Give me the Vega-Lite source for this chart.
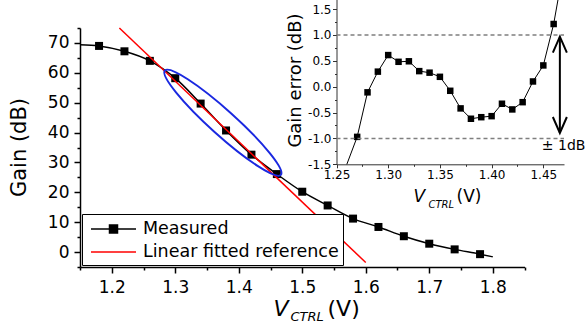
{
  "$schema": "https://vega.github.io/schema/vega-lite/v6.json",
  "width": 444.5,
  "height": 239,
  "autosize": {"type": "none"},
  "padding": {"left": 80, "top": 28, "right": 63.5, "bottom": 60},
  "background": "white",
  "config": {
    "font": "DejaVu Sans",
    "view": {"stroke": null},
    "axis": {"grid": false, "titleFontWeight": "normal", "labelColor": "black", "titleColor": "black", "domainColor": "black", "tickColor": "black", "labelOverlap": false, "labelFlush": false, "labelBound": false}
  },
  "datasets": {
    "measured": [
      {"v": 1.15, "gain": 69.4, "marker": false, "series": "Measured"},
      {"v": 1.18, "gain": 69.0, "marker": true, "series": "Measured"},
      {"v": 1.22, "gain": 67.2, "marker": true, "series": "Measured"},
      {"v": 1.26, "gain": 64.0, "marker": true, "series": "Measured"},
      {"v": 1.30, "gain": 58.2, "marker": true, "series": "Measured"},
      {"v": 1.34, "gain": 49.7, "marker": true, "series": "Measured"},
      {"v": 1.38, "gain": 40.7, "marker": true, "series": "Measured"},
      {"v": 1.42, "gain": 32.6, "marker": true, "series": "Measured"},
      {"v": 1.46, "gain": 26.1, "marker": true, "series": "Measured"},
      {"v": 1.50, "gain": 20.2, "marker": true, "series": "Measured"},
      {"v": 1.54, "gain": 15.6, "marker": true, "series": "Measured"},
      {"v": 1.58, "gain": 11.2, "marker": true, "series": "Measured"},
      {"v": 1.62, "gain": 8.4, "marker": true, "series": "Measured"},
      {"v": 1.66, "gain": 5.3, "marker": true, "series": "Measured"},
      {"v": 1.70, "gain": 2.8, "marker": true, "series": "Measured"},
      {"v": 1.74, "gain": 0.9, "marker": true, "series": "Measured"},
      {"v": 1.78, "gain": -0.7, "marker": true, "series": "Measured"},
      {"v": 1.80, "gain": -1.6, "marker": false, "series": "Measured"}
    ],
    "fit": [
      {"v": 1.212, "gain": 75.0, "series": "Linear fitted reference"},
      {"v": 1.60, "gain": -3.5, "series": "Linear fitted reference"}
    ],
    "ellipse": [
      {"cx": 1.375, "cy": 43.3}
    ],
    "gainerr": [
      {"v": 1.26, "err": -1.75, "marker": false},
      {"v": 1.27, "err": -0.97, "marker": true},
      {"v": 1.28, "err": -0.11, "marker": true},
      {"v": 1.29, "err": 0.29, "marker": true},
      {"v": 1.30, "err": 0.61, "marker": true},
      {"v": 1.31, "err": 0.48, "marker": true},
      {"v": 1.32, "err": 0.49, "marker": true},
      {"v": 1.33, "err": 0.30, "marker": true},
      {"v": 1.34, "err": 0.27, "marker": true},
      {"v": 1.35, "err": 0.19, "marker": true},
      {"v": 1.36, "err": -0.08, "marker": true},
      {"v": 1.37, "err": -0.42, "marker": true},
      {"v": 1.38, "err": -0.62, "marker": true},
      {"v": 1.39, "err": -0.59, "marker": true},
      {"v": 1.40, "err": -0.57, "marker": true},
      {"v": 1.41, "err": -0.33, "marker": true},
      {"v": 1.42, "err": -0.44, "marker": true},
      {"v": 1.43, "err": -0.30, "marker": true},
      {"v": 1.44, "err": 0.10, "marker": true},
      {"v": 1.45, "err": 0.41, "marker": true},
      {"v": 1.46, "err": 1.21, "marker": true},
      {"v": 1.47, "err": 2.33, "marker": false}
    ],
    "limits": [{"level": 1}, {"level": -1}],
    "arrow": [{"x": 1.466, "top": 0.965, "bottom": -0.895, "label": "± 1dB"}]
  },
  "layer": [
    {
      "data": {"name": "measured"},
      "layer": [
        {
          "mark": {"type": "line", "interpolate": "monotone", "strokeWidth": 1.5},
          "encoding": {
            "x": {"field": "v", "type": "quantitative",
              "scale": {"domain": [1.15, 1.85], "nice": false, "zero": false},
              "axis": {"orient": "bottom", "labelOverlap": false, "tickCount": 100,
                "values": [1.15, 1.2, 1.25, 1.3, 1.35, 1.4, 1.45, 1.5, 1.55, 1.6, 1.65, 1.7, 1.75, 1.8, 1.85],
                "labelExpr": "abs(datum.value*10 - round(datum.value*10)) < 0.01 ? format(datum.value, '.1f') : ''",
                "tickSize": {"condition": {"test": "abs(datum.value*10 - round(datum.value*10)) > 0.01", "value": 3}, "value": 6},
                "labelFontSize": 17, "labelPadding": 6, "domainWidth": 1.5, "tickWidth": 1.5,
                "title": "V", "titleFontStyle": "italic", "titleFontSize": 22, "titleX": 193, "titleY": 48, "titleAlign": "left", "titleBaseline": "alphabetic"}},
            "y": {"field": "gain", "type": "quantitative",
              "scale": {"domain": [-5, 75], "nice": false, "zero": false},
              "axis": {"orient": "left", "labelOverlap": false, "tickCount": 100,
                "values": [-5, 0, 5, 10, 15, 20, 25, 30, 35, 40, 45, 50, 55, 60, 65, 70, 75],
                "labelExpr": "datum.value % 10 == 0 ? format(datum.value, 'd') : ''",
                "tickSize": {"condition": {"test": "datum.value % 10 != 0", "value": 3}, "value": 6},
                "labelFontSize": 17, "labelPadding": 5, "domainWidth": 1.5, "tickWidth": 1.5,
                "title": "Gain (dB)", "titleFontSize": 21, "titleX": -61, "titleY": 119, "titleAlign": "center", "titleBaseline": "middle"}},
            "color": {"field": "series", "type": "nominal",
              "scale": {"domain": ["Measured", "Linear fitted reference"], "range": ["#000000", "#ff0000"]},
              "legend": {"orient": "none", "legendX": 2, "legendY": 186, "title": null, "direction": "vertical",
                "strokeColor": "black", "fillColor": "white", "padding": 4, "rowPadding": 3,
                "symbolSize": 400, "symbolOffset": 16.5, "labelOffset": 18.5, "labelLimit": 400,
                "labelFontSize": 17.5, "labelFont": "DejaVu Sans", "labelColor": "black",
                "encode": {"symbols": {"update": {
                  "shape": {"signal": "datum.value === 'Measured' ? 'M-2.25,0H2.25M-0.4,-0.4H0.4V0.4H-0.4Z' : 'M-2.25,0H2.25'"},
                  "fill": {"scale": "color", "field": "value"},
                  "stroke": {"scale": "color", "field": "value"},
                  "strokeWidth": {"value": 1.5},
                  "size": {"value": 400},
                  "opacity": {"value": 1}}}}}}
          }
        },
        {
          "transform": [{"filter": "datum.marker"}],
          "mark": {"type": "point", "shape": "square", "filled": true, "size": 64, "opacity": 1},
          "encoding": {
            "x": {"field": "v", "type": "quantitative"},
            "y": {"field": "gain", "type": "quantitative"},
            "color": {"field": "series", "type": "nominal"}
          }
        }
      ]
    },
    {
      "data": {"name": "fit"},
      "mark": {"type": "line", "strokeWidth": 1.5},
      "encoding": {
        "x": {"field": "v", "type": "quantitative",
          "scale": {"domain": [1.15, 1.85], "nice": false, "zero": false},
          "axis": {"orient": "bottom", "domain": false, "ticks": false, "labels": false,
            "title": "CTRL", "titleFontStyle": "italic", "titleFontSize": 13, "titleX": 210, "titleY": 53, "titleAlign": "left", "titleBaseline": "alphabetic"}},
        "y": {"field": "gain", "type": "quantitative",
          "scale": {"domain": [-5, 75], "nice": false, "zero": false}, "axis": null},
        "color": {"field": "series", "type": "nominal"}
      }
    },
    {
      "data": {"name": "ellipse"},
      "mark": {"type": "point",
        "shape": "M1,0C1,0.0884,0.5523,0.16,0,0.16C-0.5523,0.16,-1,0.0884,-1,0C-1,-0.0884,-0.5523,-0.16,0,-0.16C0.5523,-0.16,1,-0.0884,1,0Z",
        "filled": false, "stroke": "#1a28e0", "strokeWidth": 2, "size": 24336, "angle": 42, "opacity": 1},
      "encoding": {
        "x": {"field": "cx", "type": "quantitative",
          "scale": {"domain": [1.15, 1.85], "nice": false, "zero": false},
          "axis": {"orient": "bottom", "domain": false, "ticks": false, "labels": false,
            "title": "(V)", "titleFontSize": 22, "titleX": 247, "titleY": 48, "titleAlign": "left", "titleBaseline": "alphabetic"}},
        "y": {"field": "cy", "type": "quantitative",
          "scale": {"domain": [-5, 75], "nice": false, "zero": false}, "axis": null}
      }
    },
    {
      "data": {"name": "gainerr"},
      "layer": [
        {
          "mark": {"type": "line", "strokeWidth": 1, "color": "black"},
          "encoding": {
            "x": {"field": "v", "type": "quantitative",
              "scale": {"domain": [1.25, 1.47], "range": [256.5, 484], "nice": false, "zero": false},
              "axis": {"orient": "bottom", "offset": -102.7, "labelOverlap": false, "tickCount": 100,
                "values": [1.25, 1.275, 1.3, 1.325, 1.35, 1.375, 1.4, 1.425, 1.45],
                "labelExpr": "abs(datum.value*20 - round(datum.value*20)) < 0.01 ? format(datum.value, '.2f') : ''",
                "tickSize": {"condition": {"test": "abs(datum.value*20 - round(datum.value*20)) > 0.01", "value": 2}, "value": 3.5},
                "labelFontSize": 12, "labelPadding": 2, "domainColor": "#333333", "tickColor": "#333333",
                "title": "V", "titleFontStyle": "italic", "titleFontSize": 17, "titleX": 333, "titleY": 37.4, "titleAlign": "left", "titleBaseline": "alphabetic"}},
            "y": {"field": "err", "type": "quantitative",
              "scale": {"domain": [-1.5, 3], "range": [136.3, -96.65], "nice": false, "zero": false, "clamp": true},
              "axis": {"orient": "left", "offset": -256.5, "labelOverlap": false, "tickCount": 100,
                "values": [-1.5, -1.25, -1, -0.75, -0.5, -0.25, 0, 0.25, 0.5, 0.75, 1, 1.25, 1.5],
                "labelExpr": "abs(datum.value*2 - round(datum.value*2)) < 0.01 ? replace(format(datum.value, '.1f'), '\u2212', '-') : ''",
                "tickSize": {"condition": {"test": "abs(datum.value*2 - round(datum.value*2)) > 0.01", "value": 2}, "value": 4},
                "labelFontSize": 12, "labelPadding": 1.5, "domainColor": "#333333", "tickColor": "#333333",
                "encode": {"domain": {"update": {"y": {"scale": "layer_3_y", "value": -1.5}, "y2": {"scale": "layer_3_y", "value": 1.5}}}},
                "title": "Gain error (dB)", "titleFontSize": 18, "titleX": -40.8, "titleY": 52, "titleAlign": "center", "titleBaseline": "middle"}}
          }
        },
        {
          "transform": [{"filter": "datum.marker"}],
          "mark": {"type": "point", "shape": "square", "filled": true, "size": 42, "opacity": 1, "color": "black"},
          "encoding": {
            "x": {"field": "v", "type": "quantitative"},
            "y": {"field": "err", "type": "quantitative"}
          }
        }
      ]
    },
    {
      "data": {"name": "limits"},
      "mark": {"type": "rule", "color": "#7f7f7f", "strokeWidth": 1.5, "strokeDash": [4, 3]},
      "encoding": {
        "x": {"datum": 1.25, "type": "quantitative",
          "scale": {"domain": [1.25, 1.47], "range": [256.5, 484], "nice": false, "zero": false},
          "axis": {"orient": "bottom", "offset": -102.7, "domain": false, "ticks": false, "labels": false,
            "title": "CTRL", "titleFontStyle": "italic", "titleFontSize": 10, "titleX": 348, "titleY": 42.7, "titleAlign": "left", "titleBaseline": "alphabetic"}},
        "x2": {"datum": 1.47},
        "y": {"field": "level", "type": "quantitative",
          "scale": {"domain": [-1.5, 3], "range": [136.3, -96.65], "nice": false, "zero": false, "clamp": true}, "axis": null}
      }
    },
    {
      "data": {"name": "arrow"},
      "layer": [
        {
          "mark": {"type": "rule", "strokeWidth": 2, "color": "black"},
          "encoding": {
            "x": {"field": "x", "type": "quantitative",
              "scale": {"domain": [1.25, 1.47], "range": [256.5, 484], "nice": false, "zero": false},
              "axis": {"orient": "bottom", "offset": -102.7, "domain": false, "ticks": false, "labels": false,
                "title": "(V)", "titleFontSize": 17, "titleX": 376, "titleY": 37.4, "titleAlign": "left", "titleBaseline": "alphabetic"}},
            "y": {"field": "top", "type": "quantitative",
              "scale": {"domain": [-1.5, 3], "range": [136.3, -96.65], "nice": false, "zero": false, "clamp": true}, "axis": null},
            "y2": {"field": "bottom"}
          }
        },
        {
          "mark": {"type": "point", "shape": "M-0.7,1.6L0,0L0.7,1.6", "filled": false, "size": 400, "strokeWidth": 2, "color": "black", "opacity": 1},
          "encoding": {
            "x": {"field": "x", "type": "quantitative"},
            "y": {"field": "top", "type": "quantitative"}
          }
        },
        {
          "mark": {"type": "point", "shape": "M-0.7,-1.6L0,0L0.7,-1.6", "filled": false, "size": 400, "strokeWidth": 2, "color": "black", "opacity": 1},
          "encoding": {
            "x": {"field": "x", "type": "quantitative"},
            "y": {"field": "bottom", "type": "quantitative"}
          }
        },
        {
          "mark": {"type": "text", "align": "left", "baseline": "middle", "fontSize": 14, "color": "black"},
          "encoding": {
            "x": {"datum": 1.4486, "type": "quantitative"},
            "y": {"datum": -1.146, "type": "quantitative"},
            "text": {"field": "label"}
          }
        }
      ]
    }
  ],
  "resolve": {
    "scale": {"x": "independent", "y": "independent"},
    "axis": {"x": "independent", "y": "independent"}
  }
}
